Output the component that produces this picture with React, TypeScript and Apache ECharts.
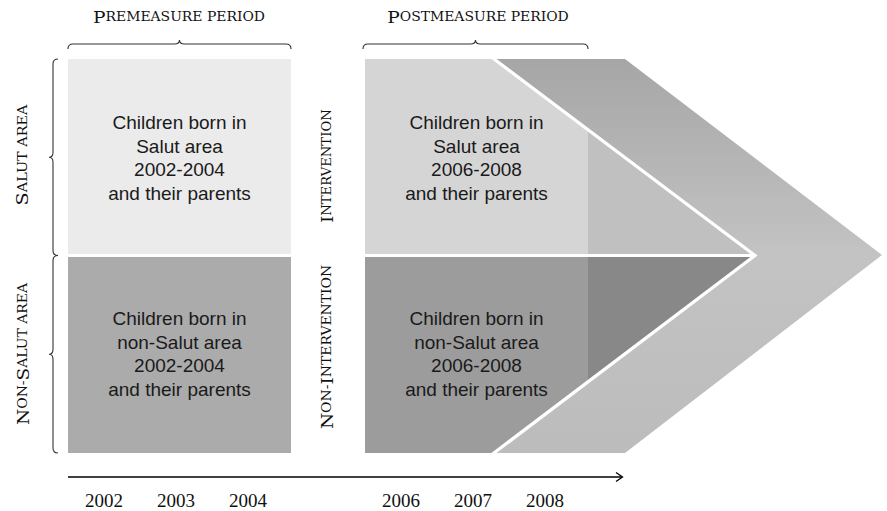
import React, { useEffect, useRef } from "react";
import * as echarts from "echarts";

// ---- data (texts of the diagram) ----
const periods = ["Premeasure period", "Postmeasure period"];
const areas = ["Salut area", "Non-Salut area"];
const arms = ["Intervention", "Non-Intervention"];
const years = ["2002", "2003", "2004", "2006", "2007", "2008"];
const boxTexts = [
  ["Children born in", "Salut area", "2002-2004", "and their parents"],
  ["Children born in", "non-Salut area", "2002-2004", "and their parents"],
  ["Children born in", "Salut area", "2006-2008", "and their parents"],
  ["Children born in", "non-Salut area", "2006-2008", "and their parents"],
];

// ---- layout ----
const L = { x0: 68, x1: 291, rx0: 365, rx1: 588, yT0: 59, yT1: 254, yB0: 257, yB1: 453 };
const yearX = [104, 176, 248, 401, 473, 545];
const SERIF = '"DejaVu Serif", serif';
const SANS = '"Liberation Sans", Arial, sans-serif';

function smallCaps(s: string) {
  let out = "";
  let cur = "";
  let mode = "";
  const flush = () => {
    if (cur) out += `{${mode}|${cur}}`;
    cur = "";
  };
  for (const ch of s) {
    const m = ch >= "A" && ch <= "Z" ? "b" : "s";
    if (m !== mode) {
      flush();
      mode = m;
    }
    cur += ch.toUpperCase();
  }
  flush();
  return out;
}

const scRich = {
  b: { fontSize: 16, fontFamily: SERIF, fill: "#111" },
  s: { fontSize: 12, fontFamily: SERIF, fill: "#111" },
};

function scText(s: string, x: number, y: number, rot: number, sx: number) {
  return {
    type: "text",
    x,
    y,
    rotation: rot,
    scaleX: sx,
    style: { text: smallCaps(s), rich: scRich, align: "center", verticalAlign: "middle", fill: "#111" },
  };
}

function hBrace(x0: number, x1: number, y: number) {
  const xm = (x0 + x1) / 2;
  return `M ${x0} ${y + 5} Q ${x0} ${y} ${x0 + 5} ${y} L ${xm - 5} ${y} Q ${xm} ${y} ${xm} ${y - 4} Q ${xm} ${y} ${xm + 5} ${y} L ${x1 - 5} ${y} Q ${x1} ${y} ${x1} ${y + 5}`;
}
function vBrace(x: number, y0: number, y1: number) {
  const ym = (y0 + y1) / 2;
  return `M ${x + 5} ${y0} Q ${x} ${y0} ${x} ${y0 + 5} L ${x} ${ym - 5} Q ${x} ${ym} ${x - 4} ${ym} Q ${x} ${ym} ${x} ${ym + 5} L ${x} ${y1 - 5} Q ${x} ${y1} ${x + 5} ${y1}`;
}

let registered = false;
function registerBraces() {
  if (registered) return;
  registered = true;
  echarts.graphic.registerShape("braceA", echarts.graphic.extendPath(hBrace(L.x0, L.x1, 44), {}));
  echarts.graphic.registerShape("braceB", echarts.graphic.extendPath(hBrace(363, L.rx1, 44), {}));
  echarts.graphic.registerShape("braceC", echarts.graphic.extendPath(vBrace(53, L.yT0, 255.5), {}));
  echarts.graphic.registerShape("braceD", echarts.graphic.extendPath(vBrace(53, 255.5, L.yB1), {}));
}

export default function App() {
  const ref = useRef<HTMLDivElement>(null);
  useEffect(() => {
    document.body.style.margin = "0";
    registerBraces();
    const chart = echarts.init(ref.current!, null, { renderer: "svg" });
    const braceStyle = { stroke: "#333", fill: "none", lineWidth: 1.1 };
    const diagTop = (x: number) => L.yT0 + ((x - 492) * (253 - L.yT0)) / (753 - 492);
    const diagBot = (x: number) => L.yB0 + ((751 - x) * (L.yB1 - L.yB0)) / (751 - 492);

    const elements: any[] = [
      // left boxes
      { type: "rect", shape: { x: L.x0, y: L.yT0, width: L.x1 - L.x0, height: L.yT1 - L.yT0 }, style: { fill: "#ebebeb" } },
      { type: "rect", shape: { x: L.x0, y: L.yB0, width: L.x1 - L.x0, height: L.yB1 - L.yB0 }, style: { fill: "#ababab" } },
      // chevron
      {
        type: "polygon",
        shape: { points: [[495, 59], [625, 59], [882, 255], [625, 453], [495, 453], [754, 255]] },
        style: {
          fill: new echarts.graphic.LinearGradient(0, 0, 0, 1, [
            { offset: 0, color: "#a6a6a6" },
            { offset: 0.5, color: "#c3c3c3" },
            { offset: 1, color: "#bcbcbc" },
          ]),
        },
      },
      // right boxes
      { type: "polygon", shape: { points: [[L.rx0, L.yT0], [492, L.yT0], [753, 254], [L.rx0, 254]] }, style: { fill: "#d5d5d5" } },
      { type: "polygon", shape: { points: [[L.rx1, diagTop(L.rx1)], [753, 254], [L.rx1, 254]] }, style: { fill: "#c0c0c0" } },
      { type: "polygon", shape: { points: [[L.rx0, L.yB0], [751, L.yB0], [492, L.yB1], [L.rx0, L.yB1]] }, style: { fill: "#9c9c9c" } },
      { type: "polygon", shape: { points: [[L.rx1, L.yB0], [751, L.yB0], [L.rx1, diagBot(L.rx1)]] }, style: { fill: "#888888" } },
      // white separators
      { type: "polyline", shape: { points: [[490, 56], [755, 255.5], [490, 456]] }, style: { stroke: "#fff", lineWidth: 3.2, fill: "none" } },
      { type: "line", shape: { x1: L.rx0, y1: 255.5, x2: 755, y2: 255.5 }, style: { stroke: "#fff", lineWidth: 3 } },
      // braces
      { type: "braceA", x: 0, y: 0, style: braceStyle },
      { type: "braceB", x: 0, y: 0, style: braceStyle },
      { type: "braceC", x: 0, y: 0, style: braceStyle },
      { type: "braceD", x: 0, y: 0, style: braceStyle },
      // time arrow
      { type: "line", shape: { x1: L.x0, y1: 477, x2: 622, y2: 477 }, style: { stroke: "#000", lineWidth: 1.4 } },
      { type: "polyline", shape: { points: [[616, 472.5], [622.5, 477], [616, 481.5]] }, style: { stroke: "#000", lineWidth: 1.3, fill: "none" } },
    ];

    // box texts
    const centers = [
      [(L.x0 + L.x1) / 2, 158],
      [(L.x0 + L.x1) / 2, 354],
      [(L.rx0 + L.rx1) / 2, 158],
      [(L.rx0 + L.rx1) / 2, 354],
    ];
    boxTexts.forEach((lines, i) => {
      elements.push({
        type: "text",
        x: centers[i][0],
        y: centers[i][1],
        style: {
          text: lines.join("\n"),
          fontSize: 19,
          fontFamily: SANS,
          fill: "#1a1a1a",
          align: "center",
          verticalAlign: "middle",
          lineHeight: 23.5,
        },
      });
    });

    // headers
    elements.push(scText(periods[0], 179, 17, 0, 1.16));
    elements.push(scText(periods[1], 478, 17, 0, 1.16));
    // left area labels
    elements.push(scText(areas[0], 23, 155, Math.PI / 2, 1.2));
    elements.push(scText(areas[1], 23, 354, Math.PI / 2, 1.16));
    // intervention labels
    elements.push(scText(arms[0], 327, 166, Math.PI / 2, 1.1));
    elements.push(scText(arms[1], 327, 347, Math.PI / 2, 1.16));

    // years
    years.forEach((y, i) => {
      elements.push({
        type: "text",
        x: yearX[i],
        y: 500,
        style: { text: y, fontSize: 19, fontFamily: '"Liberation Serif", serif', fill: "#111", align: "center", verticalAlign: "middle" },
      });
    });

    chart.setOption({ animation: false, backgroundColor: "#fff", graphic: { elements } });
    return () => chart.dispose();
  }, []);
  return <div ref={ref} style={{ width: 887, height: 511 }} />;
}
